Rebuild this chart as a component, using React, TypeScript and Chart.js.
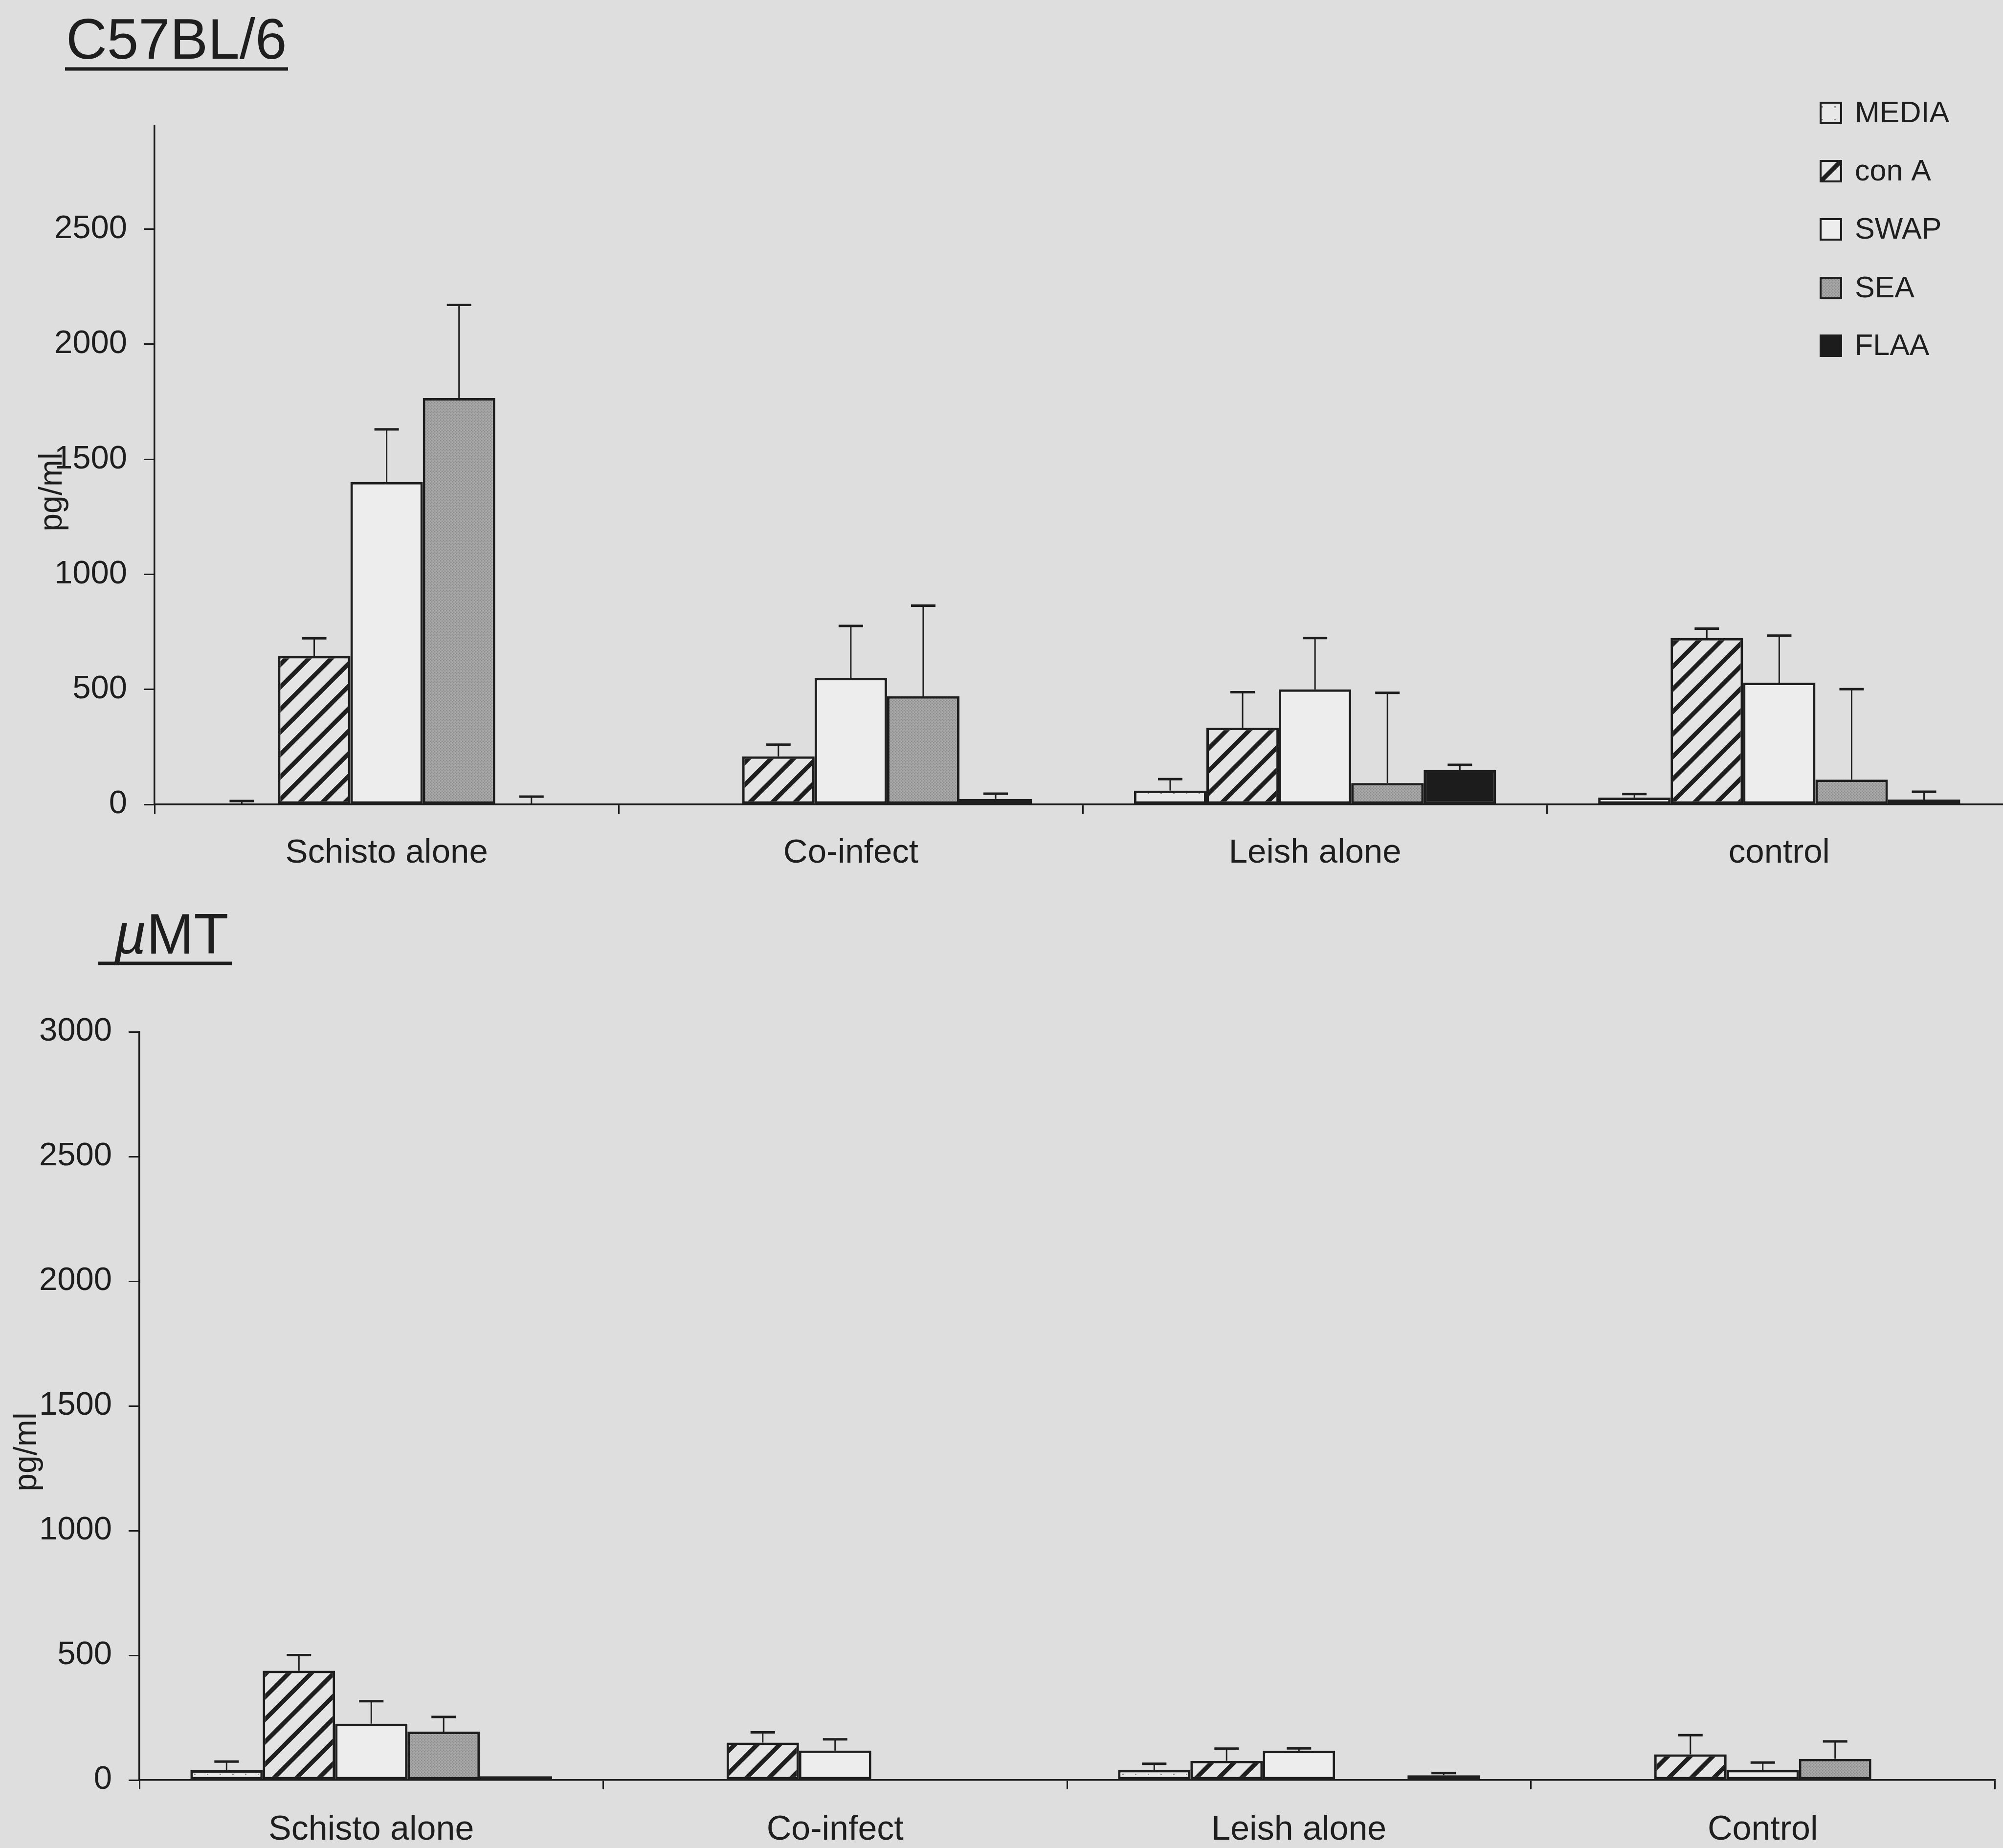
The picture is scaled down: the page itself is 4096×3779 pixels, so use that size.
import { useEffect, useRef } from "react";
import { Chart, registerables } from "chart.js";

Chart.register(...registerables);

// ---- data -------------------------------------------------------------
const seriesNames = ["MEDIA", "con A", "SWAP", "SEA", "FLAA"];

const b6Groups = ["Schisto alone", "Co-infect", "Leish alone", "control"];
const b6Media = [3, 0, 60, 30];
const b6MediaSd = [12, 0, 50, 15];
const b6ConA = [645, 209, 333, 723];
const b6ConASd = [77, 51, 155, 41];
const b6Swap = [1401, 550, 500, 529];
const b6SwapSd = [229, 226, 223, 205];
const b6Sea = [1766, 470, 93, 108];
const b6SeaSd = [405, 394, 392, 393];
const b6Flaa = [3, 24, 149, 21];
const b6FlaaSd = [31, 23, 23, 34];

const mtGroups = ["Schisto alone", "Co-infect", "Leish alone", "Control"];
const mtMedia = [39, 0, 40, 0];
const mtMediaSd = [35, 0, 25, 0];
const mtConA = [438, 150, 77, 103];
const mtConASd = [63, 41, 49, 77];
const mtSwap = [226, 118, 117, 40];
const mtSwapSd = [90, 45, 10, 30];
const mtSea = [194, 0, 0, 85];
const mtSeaSd = [59, 0, 0, 70];
const mtFlaa = [15, 0, 19, 0];
const mtFlaaSd = [0, 0, 9, 0];

const yTicksB6 = [0, 500, 1000, 1500, 2000, 2500];
const yTicksMT = [0, 500, 1000, 1500, 2000, 2500, 3000];

// ---- styling ----------------------------------------------------------
const INK = "#1e1e1e";
const PAGE = "#dedede";
const FONT = "'Liberation Sans', Arial, Helvetica, sans-serif";

type Fill = string | CanvasPattern;

function tile(w: number, h: number, draw: (g: CanvasRenderingContext2D) => void): CanvasPattern {
  const c = document.createElement("canvas");
  c.width = w;
  c.height = h;
  const g = c.getContext("2d")!;
  draw(g);
  return g.createPattern(c, "repeat")!;
}

function makeFills(): Fill[] {
  const media = tile(26, 26, (g) => {
    g.fillStyle = "#e8e8e8";
    g.fillRect(0, 0, 26, 26);
    g.fillStyle = "#8c8c8c";
    g.fillRect(7, 9, 3, 3);
  });
  const p = 46;
  const hatch = tile(p, p, (g) => {
    g.fillStyle = "#e4e4e4";
    g.fillRect(0, 0, p, p);
    g.strokeStyle = INK;
    g.lineWidth = 9;
    g.beginPath();
    g.moveTo(-4, p + 4);
    g.lineTo(p + 4, -4);
    g.moveTo(-10, 10);
    g.lineTo(10, -10);
    g.moveTo(p - 10, p + 10);
    g.lineTo(p + 10, p - 10);
    g.stroke();
  });
  const sea = tile(6, 6, (g) => {
    g.fillStyle = "#a3a3a3";
    g.fillRect(0, 0, 6, 6);
    g.fillStyle = "#8d8d8d";
    g.fillRect(0, 0, 2, 2);
    g.fillRect(3, 3, 2, 2);
    g.fillStyle = "#b8b8b8";
    g.fillRect(4, 0, 1, 1);
    g.fillRect(1, 4, 1, 1);
  });
  return [media, hatch, "#ededed", sea, "#1c1c1c"];
}

type Panel = {
  labels: string[];
  means: number[][];
  sds: number[][];
  yTicks: number[];
  max: number;
  width: number;
  height: number;
  top: number;
  left: number; // chart-area left
  areaTop: number;
  right: number; // chart-area right
  bottom: number; // chart-area bottom
  catFont: number;
  catPad: number;
  decorate: (ctx: CanvasRenderingContext2D, fills: Fill[]) => void;
};

function drawUnderlinedTitle(
  ctx: CanvasRenderingContext2D,
  parts: { text: string; italic: boolean }[],
  x: number,
  baseline: number,
  lineY: number,
  lineX0: number,
  lineX1: number
) {
  ctx.save();
  ctx.fillStyle = INK;
  ctx.textBaseline = "alphabetic";
  ctx.textAlign = "left";
  let cx = x;
  for (const part of parts) {
    ctx.font = `${part.italic ? "italic " : ""}116px ${FONT}`;
    ctx.fillText(part.text, cx, baseline);
    cx += ctx.measureText(part.text).width;
  }
  ctx.fillRect(lineX0, lineY - 3.5, lineX1 - lineX0, 7);
  ctx.restore();
}

function drawYTitle(ctx: CanvasRenderingContext2D, x: number, y: number) {
  ctx.save();
  ctx.translate(x, y);
  ctx.rotate(-Math.PI / 2);
  ctx.fillStyle = INK;
  ctx.font = `66px ${FONT}`;
  ctx.textAlign = "center";
  ctx.textBaseline = "middle";
  ctx.fillText("pg/ml", 0, 0);
  ctx.restore();
}

function drawLegend(ctx: CanvasRenderingContext2D, fills: Fill[]) {
  const rows = [231, 350, 469, 589, 707];
  ctx.save();
  ctx.font = `61px ${FONT}`;
  ctx.textBaseline = "middle";
  ctx.textAlign = "left";
  seriesNames.forEach((name, i) => {
    const cy = rows[i];
    ctx.fillStyle = fills[i] as any;
    ctx.fillRect(3723, cy - 21, 42, 42);
    ctx.strokeStyle = INK;
    ctx.lineWidth = 4;
    ctx.strokeRect(3723, cy - 21, 42, 42);
    ctx.fillStyle = INK;
    ctx.fillText(name, 3793, cy + 2);
  });
  ctx.restore();
}

const b6Panel: Panel = {
  labels: b6Groups,
  means: [b6Media, b6ConA, b6Swap, b6Sea, b6Flaa],
  sds: [b6MediaSd, b6ConASd, b6SwapSd, b6SeaSd, b6FlaaSd],
  yTicks: yTicksB6,
  max: 2950,
  width: 4120,
  height: 1850,
  top: 0,
  left: 316,
  areaTop: 257,
  right: 4113,
  bottom: 1645,
  catFont: 69,
  catPad: 40,
  decorate: (ctx, fills) => {
    drawUnderlinedTitle(ctx, [{ text: "C57BL/6", italic: false }], 135, 120, 141, 133, 589);
    drawYTitle(ctx, 108, 1006);
    drawLegend(ctx, fills);
  },
};

const mtPanel: Panel = {
  labels: mtGroups,
  means: [mtMedia, mtConA, mtSwap, mtSea, mtFlaa],
  sds: [mtMediaSd, mtConASd, mtSwapSd, mtSeaSd, mtFlaaSd],
  yTicks: yTicksMT,
  max: 3000,
  width: 4096,
  height: 1929,
  top: 1850,
  left: 285,
  areaTop: 260,
  right: 4079,
  bottom: 1790,
  catFont: 70,
  catPad: 42,
  decorate: (ctx) => {
    drawUnderlinedTitle(
      ctx,
      [
        { text: "\u00B5", italic: true },
        { text: "MT", italic: false },
      ],
      233,
      100,
      120,
      201,
      474
    );
    drawYTitle(ctx, 56, 1119);
  },
};

function ChartPanel({ panel }: { panel: Panel }) {
  const ref = useRef<HTMLCanvasElement>(null);

  useEffect(() => {
    const canvas = ref.current!;
    const fills = makeFills();

    const errorBars = {
      id: "errorBars",
      afterDatasetsDraw(chart: any) {
        const ctx: CanvasRenderingContext2D = chart.ctx;
        const y = chart.scales.y;
        ctx.save();
        ctx.strokeStyle = INK;
        chart.data.datasets.forEach((ds: any, i: number) => {
          const meta = chart.getDatasetMeta(i);
          meta.data.forEach((bar: any, j: number) => {
            const sd = panel.sds[i][j];
            if (!sd) return;
            const top = y.getPixelForValue((ds.data[j] as number) + sd);
            ctx.lineWidth = 3;
            ctx.beginPath();
            ctx.moveTo(bar.x, bar.y);
            ctx.lineTo(bar.x, top);
            ctx.stroke();
            ctx.lineWidth = 5;
            ctx.beginPath();
            ctx.moveTo(bar.x - 25, top);
            ctx.lineTo(bar.x + 25, top);
            ctx.stroke();
          });
        });
        ctx.restore();
      },
    };

    const decorations = {
      id: "decorations",
      afterDraw(chart: any) {
        panel.decorate(chart.ctx, fills);
      },
    };

    const chart = new Chart(canvas, {
      type: "bar",
      data: {
        labels: panel.labels,
        datasets: panel.means.map((vals, i) => ({
          label: seriesNames[i],
          data: vals,
          backgroundColor: fills[i] as any,
          borderColor: INK,
          borderWidth: 5,
          borderSkipped: false,
          barPercentage: 1,
          categoryPercentage: 0.78,
        })),
      },
      options: {
        responsive: false,
        animation: false,
        devicePixelRatio: 1,
        layout: {
          padding: {
            left: 0,
            top: panel.areaTop,
            right: panel.width - panel.right,
            bottom: 0,
          },
        },
        plugins: {
          legend: { display: false },
          tooltip: { enabled: false },
        },
        scales: {
          x: {
            type: "category",
            offset: true,
            grid: {
              display: true,
              offset: true,
              drawOnChartArea: false,
              drawTicks: true,
              tickLength: 19,
              color: INK,
              lineWidth: 3,
            },
            border: { display: true, color: INK, width: 3.5 },
            ticks: {
              color: INK,
              font: { family: FONT, size: panel.catFont },
              padding: panel.catPad,
              maxRotation: 0,
              autoSkip: false,
            },
            afterFit: (s: any) => {
              s.height = panel.height - panel.bottom;
            },
          },
          y: {
            type: "linear",
            min: 0,
            max: panel.max,
            afterBuildTicks: (s: any) => {
              s.ticks = panel.yTicks.map((v) => ({ value: v }));
            },
            ticks: {
              color: INK,
              font: { family: FONT, size: 67 },
              padding: 34,
              callback: (v: any) => String(v),
            },
            grid: {
              display: true,
              drawOnChartArea: false,
              drawTicks: true,
              tickLength: 22,
              color: INK,
              lineWidth: 3,
            },
            border: { display: true, color: INK, width: 3.5 },
            afterFit: (s: any) => {
              s.width = panel.left;
            },
          },
        },
      },
      plugins: [errorBars, decorations],
    });

    return () => chart.destroy();
  }, [panel]);

  return (
    <canvas
      ref={ref}
      width={panel.width}
      height={panel.height}
      style={{
        position: "absolute",
        left: 0,
        top: panel.top,
        width: panel.width,
        height: panel.height,
      }}
    />
  );
}

export default function App() {
  return (
    <div
      style={{
        position: "fixed",
        left: 0,
        top: 0,
        width: 4096,
        height: 3779,
        overflow: "hidden",
        background: PAGE,
      }}
    >
      <ChartPanel panel={b6Panel} />
      <ChartPanel panel={mtPanel} />
    </div>
  );
}
